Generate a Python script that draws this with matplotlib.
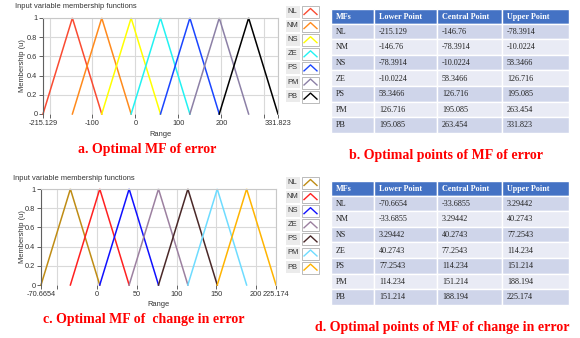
import numpy as np
import matplotlib.pyplot as plt
from matplotlib.patches import Rectangle

W, H = 580, 338

mf_names = ['NL', 'NM', 'NS', 'ZE', 'PS', 'PM', 'PB']
col_heads = ['MFs', 'Lower Point', 'Central Point', 'Upper Point']

# triangular MF break points for the error input
err_lower = [-215.129, -146.76, -78.3914, -10.0224, 58.3466, 126.716, 195.085]
err_central = [-146.76, -78.3914, -10.0224, 58.3466, 126.716, 195.085, 263.454]
err_upper = [-78.3914, -10.0224, 58.3466, 126.716, 195.085, 263.454, 331.823]
err_ticks = [-215.129, -200, -100, 0, 100, 200, 300, 331.823]
err_ticklabels = ['-215.129', '', '-100', '0', '100', '200', '', '331.823']
err_colors = ['#fa4b32', '#ff8a1c', '#ffff00', '#22f2f2', '#1a45ff', '#8c80a6', '#000000']

# triangular MF break points for the change in error input
derr_lower = [-70.6654, -33.6855, 3.29442, 40.2743, 77.2543, 114.234, 151.214]
derr_central = [-33.6855, 3.29442, 40.2743, 77.2543, 114.234, 151.214, 188.194]
derr_upper = [3.29442, 40.2743, 77.2543, 114.234, 151.214, 188.194, 225.174]
derr_ticks = [-70.6654, -50, 0, 50, 100, 150, 200, 225.174]
derr_ticklabels = ['-70.6654', '', '0', '50', '100', '150', '200', '225.174']
derr_colors = ['#bf8c14', '#ff2020', '#1010ff', '#9c80a0', '#4a2828', '#6edcff', '#ffb400']

y_ticks = [0, 0.2, 0.4, 0.6, 0.8, 1]
y_ticklabels = ['0', '0.2', '0.4', '0.6', '0.8', '1']

ui_font = 'Liberation Sans'
serif = 'Liberation Serif'


def box(x0, y0, x1, y1):
    return [x0 / W, 1 - y1 / H, (x1 - x0) / W, (y1 - y0) / H]


fig = plt.figure(figsize=(W / 100, H / 100), dpi=100)
fig.patch.set_facecolor('white')

# overlay in pixel units for legends, tables and captions
ov = fig.add_axes([0, 0, 1, 1], zorder=5)
ov.set_xlim(0, W)
ov.set_ylim(H, 0)
ov.axis('off')
ov.patch.set_alpha(0)


def mf_panel(rect, top, lower, central, upper, colors, ticks, ticklabels):
    x0, y0, x1, y1 = rect
    ax = fig.add_axes(box(x0, y0, x1, y1))
    for lo, c, up, col in zip(lower, central, upper, colors):
        ax.plot([lo, c, up], [0, 1, 0], color=col, lw=1.1, clip_on=False,
                solid_joinstyle='miter')
    ax.set_xlim(lower[0], upper[-1])
    ax.set_ylim(0, 1)
    ax.set_xticks(ticks)
    ax.set_xticklabels(ticklabels)
    ax.set_yticks(y_ticks)
    ax.set_yticklabels(y_ticklabels)
    ax.grid(color='#d9d9d9', lw=0.8)
    ax.get_ygridlines()[0].set_visible(False)
    ax.set_axisbelow(True)
    for s in ['top', 'right']:
        ax.spines[s].set_color('#c8c8c8')
        ax.spines[s].set_linewidth(0.8)
    ax.spines['left'].set_color('#606060')
    ax.spines['left'].set_linewidth(0.8)
    ax.spines['bottom'].set_visible(False)
    ax.tick_params(length=3, width=0.7, color='#606060', pad=1,
                   labelsize=5.3, labelcolor='#333333')
    for lab in ax.get_xticklabels() + ax.get_yticklabels():
        lab.set_family(ui_font)

    ov.text(x0 - 28, top + 7, 'Input variable membership functions',
            fontsize=5.4, family=ui_font, color='#333333', va='center')
    ov.text(22, (y0 + y1) / 2, 'Membership (u)', rotation=90,
            fontsize=5.4, family=ui_font, color='#333333', ha='center', va='center')
    ov.text((x0 + x1) / 2, y1 + 20, 'Range',
            fontsize=5.4, family=ui_font, color='#333333', ha='center', va='center')

    # legend: name boxes plus chevron swatches
    for i, (name, col) in enumerate(zip(mf_names, colors)):
        yc = top + 11.5 + i * 14.1
        ov.add_patch(Rectangle((285.5, yc - 6), 14, 12, facecolor='#ebebeb',
                               edgecolor='none'))
        ov.text(292.5, yc, name, fontsize=5.4, family=ui_font, color='#333333',
                ha='center', va='center')
        ov.add_patch(Rectangle((302, yc - 5.5), 17, 12, facecolor='white',
                               edgecolor='#b0b0b0', lw=0.6))
        ov.plot([304, 310.5, 317], [yc + 3, yc - 3, yc + 3], color=col, lw=1.0)


def points_table(top, lower, central, upper):
    cols = [331, 374, 437, 502, 569]
    head_h = 14.5
    row_h = 15.6
    for j, txt in enumerate(col_heads):
        ov.add_patch(Rectangle((cols[j], top), cols[j + 1] - cols[j], head_h,
                               facecolor='#4472c4', edgecolor='white', lw=1))
        ov.text(cols[j] + 5, top + head_h / 2 + 0.5, txt, fontsize=5.9, family=serif,
                weight='bold', color='white', va='center')
    for i, name in enumerate(mf_names):
        y = top + head_h + i * row_h
        fc = '#cfd5ea' if i % 2 == 0 else '#e9ebf5'
        vals = [name, '%g' % lower[i], '%g' % central[i], '%g' % upper[i]]
        for j, txt in enumerate(vals):
            ov.add_patch(Rectangle((cols[j], y), cols[j + 1] - cols[j], row_h,
                                   facecolor=fc, edgecolor='white', lw=1))
            ov.text(cols[j] + 5, y + row_h / 2 + 0.5, txt, fontsize=5.9, family=serif,
                    color='#222222', va='center')


mf_panel((43, 18, 278, 114), 0, err_lower, err_central, err_upper,
         err_colors, err_ticks, err_ticklabels)
mf_panel((41, 189, 276, 285), 171, derr_lower, derr_central, derr_upper,
         derr_colors, derr_ticks, derr_ticklabels)

points_table(9, err_lower, err_central, err_upper)
points_table(181, derr_lower, derr_central, derr_upper)

cap = dict(fontsize=10, family=serif, weight='bold', color='#ff0000',
           ha='center', va='center')
ov.text(147, 149, 'a. Optimal MF of error', **cap)
ov.text(446, 156, 'b. Optimal points of MF of error', **cap)
ov.text(144, 320, 'c. Optimal MF of  change in error', **cap)
ov.text(442, 327, 'd. Optimal points of MF of change in error', **cap)

fig.savefig('out.png', dpi=100)
